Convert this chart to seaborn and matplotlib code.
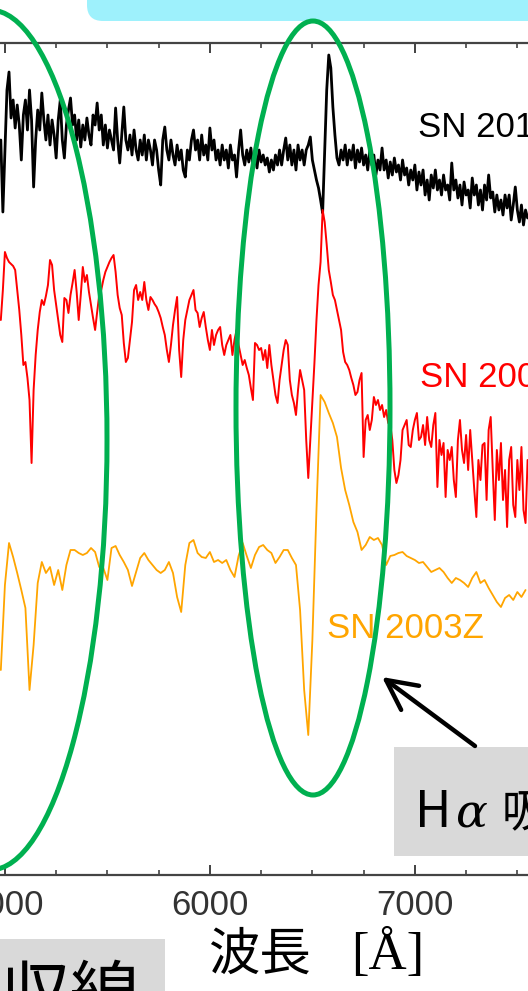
import numpy as np
import matplotlib
matplotlib.use("Agg")
import matplotlib.pyplot as plt
import seaborn as sns
from matplotlib.patches import Ellipse, Rectangle, FancyBboxPatch
from matplotlib.ticker import MultipleLocator

# === wavelength grids [A] ===
WAVE_FINE = np.arange(4980, 7560, 10)    # black / red spectra
WAVE_COARSE = np.arange(4980, 7560, 20)  # orange spectrum

# === relative flux (with offsets) ===
FLUX_BLACK = [
    7.35, 6.63, 7.25, 7.85, 8.03, 7.57, 7.75, 7.47, 7.70, 7.50,
    7.15, 7.60, 7.75, 7.45, 7.85, 7.55, 6.88, 7.35, 7.65, 7.45,
    7.82, 7.55, 7.35, 7.60, 7.30, 7.55, 7.40, 7.17, 7.55, 7.75,
    7.35, 7.17, 7.50, 7.65, 7.77, 7.50, 7.60, 7.35, 7.55, 7.28,
    7.50, 7.35, 7.57, 7.40, 7.30, 7.60, 7.50, 7.72, 7.45, 7.60,
    7.30, 7.50, 7.27, 7.45, 7.35, 7.25, 7.67, 7.35, 7.12, 7.40,
    7.68, 7.35, 7.25, 7.40, 7.20, 7.45, 7.25, 7.15, 7.35, 7.20,
    7.40, 7.15, 7.35, 7.25, 7.10, 7.35, 7.25, 7.05, 6.90, 7.35,
    7.48, 7.25, 7.15, 7.35, 7.20, 7.10, 7.30, 7.15, 7.25, 7.05,
    6.98, 7.25, 7.15, 7.35, 7.45, 7.25, 7.35, 7.15, 7.40, 7.20,
    7.30, 7.15, 7.47, 7.25, 7.35, 7.15, 7.25, 7.10, 7.30, 7.15,
    7.25, 7.07, 7.30, 7.15, 7.20, 6.98, 7.25, 7.45, 7.20, 7.10,
    7.25, 7.13, 7.27, 7.10, 7.20, 7.07, 7.25, 7.13, 7.20, 7.10,
    7.17, 7.03, 7.15, 7.05, 7.20, 7.10, 7.25, 7.10, 7.25, 7.37,
    7.15, 7.30, 7.10, 7.25, 7.05, 7.30, 7.15, 7.25, 7.10, 7.25,
    7.30, 7.38, 7.15, 7.05, 6.95, 6.87, 6.75, 6.62, 7.25, 7.85,
    8.20, 8.07, 7.68, 7.40, 7.17, 7.10, 7.25, 7.15, 7.30, 7.10,
    7.25, 7.15, 7.30, 7.07, 7.25, 7.13, 7.27, 7.10, 7.20, 7.05,
    7.25, 7.10, 7.20, 7.00, 7.15, 7.05, 7.27, 7.05, 7.15, 6.97,
    7.13, 7.00, 7.17, 7.03, 7.10, 6.95, 7.15, 7.00, 7.07, 6.90,
    7.05, 6.95, 7.10, 6.85, 7.03, 6.90, 7.05, 6.80, 6.95, 6.75,
    7.00, 6.87, 7.05, 6.85, 6.95, 6.80, 7.00, 6.85, 6.90, 6.75,
    7.12, 6.85, 6.95, 6.77, 6.90, 6.70, 6.93, 6.80, 6.85, 6.67,
    6.97, 6.80, 6.90, 6.70, 6.85, 6.65, 6.90, 6.75, 7.00, 6.77,
    6.83, 6.63, 6.80, 6.65, 6.75, 6.60, 6.80, 6.67, 6.80, 6.55,
    6.70, 6.88, 6.65, 6.53, 6.70, 6.50, 6.65, 6.57,
]

FLUX_RED = [
    5.55, 5.85, 6.23, 6.17, 6.13, 6.11, 6.09, 6.05, 5.85, 5.65,
    5.40, 5.10, 5.13, 4.97, 4.75, 4.12, 4.85, 5.20, 5.45, 5.63,
    5.75, 5.70, 5.79, 5.90, 6.15, 6.10, 5.85, 5.70, 5.55, 5.40,
    5.33, 5.77, 5.75, 5.62, 5.80, 5.92, 6.05, 5.83, 5.55, 5.80,
    6.08, 5.93, 6.00, 5.83, 5.70, 5.57, 5.45, 5.63, 5.80, 5.85,
    5.95, 6.03, 6.08, 6.13, 6.17, 6.20, 6.03, 5.80, 5.67, 5.60,
    5.32, 5.13, 5.17, 5.35, 5.53, 5.85, 5.90, 5.75, 5.83, 5.75,
    5.93, 5.75, 5.65, 5.78, 5.75, 5.71, 5.68, 5.63, 5.57, 5.48,
    5.40, 5.25, 5.13, 5.30, 5.50, 5.65, 5.78, 5.25, 4.98, 5.35,
    5.55, 5.65, 5.75, 5.80, 5.85, 5.65, 5.62, 5.48, 5.57, 5.63,
    5.48, 5.35, 5.25, 5.45, 5.30, 5.40, 5.45, 5.48, 5.30, 5.20,
    5.30, 5.35, 5.40, 5.20, 5.35, 5.45, 5.30, 5.20, 5.10, 5.15,
    5.07, 5.00, 4.87, 4.75, 5.32, 5.30, 5.25, 5.27, 5.15, 5.25,
    5.07, 5.30, 5.10, 4.95, 4.80, 4.72, 4.95, 5.10, 5.25, 5.35,
    5.30, 4.95, 4.80, 4.72, 4.60, 4.85, 5.05, 4.95, 4.85, 4.35,
    3.97, 4.35, 4.75, 5.12, 5.55, 5.90, 6.13, 6.65, 6.53, 6.30,
    6.05, 5.93, 5.80, 5.75, 5.65, 5.55, 5.45, 5.23, 5.13, 5.10,
    5.05, 4.97, 4.90, 4.80, 4.83, 4.95, 5.02, 4.18, 4.55, 4.60,
    4.45, 4.55, 4.78, 4.70, 4.75, 4.65, 4.70, 4.58, 4.65, 4.52,
    4.50, 4.35, 4.05, 3.92, 4.00, 4.15, 4.45, 4.50, 4.55, 4.30,
    4.28, 4.45, 4.55, 4.62, 4.35, 4.38, 4.50, 4.30, 4.58, 4.35,
    4.28, 4.50, 4.62, 3.88, 4.35, 4.20, 4.32, 3.78, 4.25, 4.15,
    4.28, 3.95, 3.78, 4.35, 4.55, 4.25, 4.12, 4.40, 4.05, 4.45,
    4.15, 3.85, 3.58, 4.15, 3.95, 4.30, 4.32, 3.75, 4.45, 4.58,
    4.05, 3.55, 4.25, 3.95, 4.32, 3.75, 4.05, 3.48, 4.15, 4.28,
    3.70, 3.58, 4.15, 3.85, 4.28, 3.65, 3.52, 4.15,
]

FLUX_ORANGE = [
    2.05, 2.90, 3.32, 3.18, 3.02, 2.85, 2.67, 1.85, 2.30, 2.92,
    3.13, 3.02, 3.08, 2.90, 3.05, 2.85, 3.10, 3.25, 3.25, 3.22,
    3.20, 3.22, 3.27, 3.23, 3.08, 3.07, 2.95, 3.27, 3.29, 3.20,
    3.13, 3.05, 2.89, 3.03, 3.17, 3.22, 3.15, 3.10, 3.05, 3.02,
    3.05, 3.13, 3.02, 2.78, 2.63, 3.10, 3.32, 3.35, 3.22, 3.18,
    3.17, 3.23, 3.13, 3.15, 3.12, 3.15, 3.05, 2.98, 3.19, 3.32,
    3.19, 3.07, 3.20, 3.28, 3.30, 3.25, 3.22, 3.12, 3.18, 3.25,
    3.25, 3.17, 3.10, 2.65, 1.85, 1.40, 2.35, 3.65, 4.80, 4.73,
    4.62, 4.52, 4.38, 4.07, 3.85, 3.70, 3.53, 3.43, 3.25, 3.30,
    3.38, 3.35, 3.37, 3.30, 3.10, 3.19, 3.20, 3.22, 3.23, 3.19,
    3.17, 3.15, 3.12, 3.13, 3.08, 3.03, 3.05, 3.07, 3.03, 2.97,
    2.92, 2.97, 2.95, 2.92, 2.88, 2.97, 3.03, 2.92, 2.95, 2.87,
    2.80, 2.73, 2.68, 2.77, 2.80, 2.75, 2.83, 2.78, 2.85,
]

SN_NAMES = ["SN 2016bkv", "SN 2005cs", "SN 2003Z"]
SN_COLORS = ["black", "#FF0000", "#FFA500"]
XTICKS = [5000, 6000, 7000]

GREEN = "#00B050"
CJK = ["Noto Sans CJK JP", "DejaVu Sans"]

sns.set_theme(style="white")
plt.rcParams["font.family"] = ["Liberation Sans", "DejaVu Sans"]

fig = plt.figure(figsize=(5.28, 9.91), dpi=100)
ax = fig.add_axes([0, 116 / 991, 1, 832 / 991])

# === spectra ===
sns.lineplot(x=WAVE_FINE, y=FLUX_BLACK, color=SN_COLORS[0], lw=2.0, ax=ax)
sns.lineplot(x=WAVE_FINE, y=FLUX_RED, color=SN_COLORS[1], lw=1.4, ax=ax)
sns.lineplot(x=WAVE_COARSE, y=FLUX_ORANGE, color=SN_COLORS[2], lw=1.3, ax=ax)

ax.set_xlim(4976, 7552)
ax.set_ylim(0, 8.32)
ax.set_xticks(XTICKS)
ax.xaxis.set_minor_locator(MultipleLocator(250))
ax.set_yticks([])
ax.set_xlabel("")
ax.set_ylabel("")
ax.tick_params(axis="x", which="both", direction="in", top=True, bottom=True,
               colors="#333333", labelsize=25, pad=10)
ax.tick_params(axis="x", which="major", length=7, width=1.3)
ax.tick_params(axis="x", which="minor", length=3.5, width=1.1)
for side in ["left", "right"]:
    ax.spines[side].set_visible(False)
for side in ["top", "bottom"]:
    ax.spines[side].set_color("#444444")
    ax.spines[side].set_linewidth(1.6)

# === overlay in pixel units for the slide decorations ===
ov = fig.add_axes([0, 0, 1, 1])
ov.set_xlim(0, 528)
ov.set_ylim(991, 0)
ov.axis("off")
ov.patch.set_alpha(0)

ov.add_patch(FancyBboxPatch((87, -60), 520, 81, boxstyle="round,pad=0,rounding_size=16",
                            fc="#9EF1FC", ec="none"))
ov.add_patch(Rectangle((394, 747), 200, 109, fc="#D9D9D9", ec="none"))
ov.add_patch(Rectangle((-5, 939), 170, 60, fc="#D9D9D9", ec="none"))

# spectrum labels
ov.text(418, 137, SN_NAMES[0], color=SN_COLORS[0], fontsize=25, va="baseline")
ov.text(420, 387, SN_NAMES[1], color=SN_COLORS[1], fontsize=25, va="baseline")
ov.text(327, 638, SN_NAMES[2], color=SN_COLORS[2], fontsize=25, va="baseline")

# green ellipses
ov.add_patch(Ellipse((-10, 440), 234, 860, fill=False, ec=GREEN, lw=3.6, zorder=5))
ov.add_patch(Ellipse((313, 408), 154, 774, fill=False, ec=GREEN, lw=3.6, zorder=5))

# arrow to the H-alpha ellipse
ov.annotate("", xy=(382, 677), xytext=(475, 746),
            arrowprops=dict(arrowstyle="->,head_length=0.6,head_width=0.3", lw=3.2,
                            color="black", mutation_scale=36, shrinkA=0, shrinkB=0),
            zorder=6)

# boxed captions
ov.text(415, 827, "H", fontsize=36, family=CJK, va="baseline", color="black")
ov.text(455, 827, "α", fontsize=34, family=["DejaVu Serif"],
        style="italic", va="baseline", color="black")
ov.text(502, 827, "吸収線", fontsize=33, family=CJK, va="baseline", color="black")
ov.text(140, 1018, "吸収線", fontsize=50, family=CJK, va="baseline", ha="right",
        color="black")

# x axis title
ov.text(208, 970, "波長", fontsize=37, family=CJK, va="baseline", color="black")
ov.text(351, 969, "[Å]", fontsize=38, family=["Liberation Serif", "DejaVu Serif"],
        va="baseline", color="black")

fig.savefig("out.png", dpi=100)
